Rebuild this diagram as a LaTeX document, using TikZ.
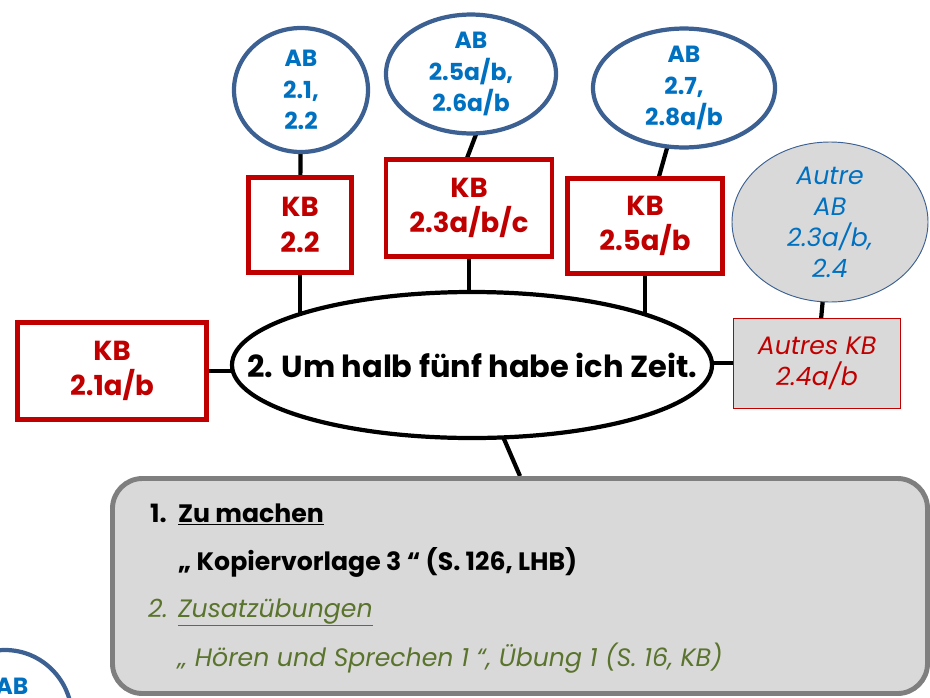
\documentclass[tikz,border=0pt]{standalone}
\usepackage{fontspec}
\setmainfont{Poppins}
\usetikzlibrary{shapes.geometric,positioning,calc,backgrounds}

\definecolor{abblue}{RGB}{0,112,192}
\definecolor{abline}{RGB}{59,96,145}
\definecolor{kbred}{RGB}{192,0,0}
\definecolor{boxgray}{RGB}{217,217,217}
\definecolor{framegray}{RGB}{127,127,127}
\definecolor{zugreen}{RGB}{90,115,45}

\tikzset{
  abcloud/.style={ellipse, draw=abline, line width=3.6pt, fill=white, text=abblue,
    font=\fontsize{20}{27}\selectfont\bfseries, align=center, inner sep=0pt},
  kbbox/.style={rectangle, draw=kbred, line width=4pt, fill=white, text=kbred,
    font=\fontsize{23.5}{30}\selectfont\bfseries, align=center, inner sep=0pt},
  extra/.style={fill=boxgray, font=\fontsize{21.5}{26.5}\selectfont\itshape, align=center, inner sep=0pt},
  link/.style={line width=3.6pt, black},
  todotext/.style={anchor=base west, inner sep=0pt},
}

\begin{document}
\begin{tikzpicture}[x=0.03cm, y=-0.03cm]
\path[use as bounding box, clip] (0,0) rectangle (930,697);

% theme in the middle
\node[ellipse, draw, line width=3.6pt, fill=white, minimum width=14.4cm, minimum height=4.38cm, inner sep=0pt,
  label={[font=\fontsize{26}{30}\selectfont\bfseries, inner sep=0pt]center:2. Um halb fünf habe ich Zeit.}] (theme) at (472,365) {};

% Kursbuch
\node[kbbox, minimum width=3.09cm, minimum height=2.85cm] (kb1) at (300,225) {KB\\2.2};
\node[kbbox, minimum width=4.98cm, minimum height=2.91cm] (kb2) at (469,208) {KB\\2.3a/b/c};
\node[kbbox, minimum width=4.65cm, minimum height=2.85cm] (kb3) at (645,226) {KB\\2.5a/b};
\node[kbbox, minimum width=5.67cm, minimum height=2.91cm] (kb4) at (112,371) {KB\\2.1a/b};
\node[extra, rectangle, draw=kbred, line width=0.8pt, text=kbred, minimum width=5.01cm, minimum height=2.7cm] (kb5) at (817,363) {Autres KB\\2.4a/b};

% Arbeitsbuch
\node[abcloud, minimum width=4.02cm, minimum height=3.72cm] (ab1) at (301,90) {AB\\2.1,\\2.2};
\node[abcloud, minimum width=5.1cm, minimum height=3.36cm] (ab2) at (471,74) {AB\\2.5a/b,\\2.6a/b};
\node[abcloud, minimum width=5.46cm, minimum height=3.36cm] (ab3) at (684,88) {AB\\2.7,\\2.8a/b};
\node[extra, ellipse, draw=abline, line width=0.8pt, text=abblue, minimum width=5.88cm, minimum height=4.8cm] (ab4) at (830,222) {Autre\\AB\\2.3a/b,\\2.4};
\node[abcloud, minimum width=4.02cm, minimum height=4.08cm] (ab0) at (5,718) {};
\node[text=abblue, font=\fontsize{20}{27}\selectfont\bfseries, inner sep=0pt] (ab0txt) at (12,686) {AB};

% Hausaufgaben
\node[rectangle, rounded corners=0.9cm, draw=framegray, line width=4.2pt, fill=boxgray,
  minimum width=24.45cm, minimum height=6.45cm] (todo) at (520,586) {};
\node[todotext, font=\fontsize{21.5}{24}\selectfont\bfseries] (t1) at (150,522) {1.\hspace{0.45em}\underline{Zu machen}};
\node[todotext, font=\fontsize{21.5}{24}\selectfont\bfseries] (t2) at (178,570) {„ Kopiervorlage 3 “ (S. 126, LHB)};
\node[todotext, font=\fontsize{21.5}{24}\selectfont\itshape, text=zugreen] (t3) at (148,617) {2. \underline{Zusatzübungen}};
\node[todotext, font=\fontsize{21.5}{24}\selectfont\itshape, text=zugreen] (t4) at (178,666) {„ Hören und Sprechen 1 “, Übung 1 (S. 16, KB)};

\begin{scope}[on background layer]
  \draw[link] (ab1.center) -- (kb1.center);
  \draw[link] ([xshift=0.84cm]ab2.center) -- ([xshift=-0.63cm]kb2.center);
  \draw[link] (ab3.center) -- (kb3.center);
  \draw[link] (ab4.center) -- (kb5.center);
  \draw[link] (kb1.center) -- (kb1.center |- theme.center);
  \draw[link] (kb2.center) -- (kb2.center |- theme.center);
  \draw[link] (kb3.center) -- (kb3.center |- theme.center);
  \draw[link] (kb4.center) -- (kb4.center -| theme.center);
  \draw[link] (kb5.center) -- (kb5.center -| theme.center);
  \draw[link] (theme.center) -- (todo.north);
\end{scope}
\end{tikzpicture}
\end{document}
